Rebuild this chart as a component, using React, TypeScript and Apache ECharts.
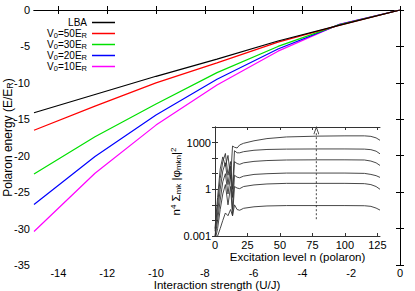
import React, { useEffect, useRef } from "react";
import * as echarts from "echarts";

// ---------- data ----------
const mainX = [-15, -12.5, -10, -7.5, -5, -2.5, 0];
const lba = [-14.1, -11.6, -9.1, -6.75, -4.25, -2.12, 0];
const v50 = [-16.5, -13.2, -10.0, -7.25, -4.4, -2.1, 0];
const v30 = [-22.5, -17.4, -12.9, -8.6, -5.0, -2.05, 0];
const v20 = [-26.7, -20.1, -14.4, -9.5, -5.35, -2.0, 0];
const v10 = [-30.4, -22.4, -15.8, -10.3, -5.65, -1.98, 0];

const seriesNames = ["LBA", "V0=50ER", "V0=30ER", "V0=20ER", "V0=10ER"];
const legendLabels: Record<string, string> = {
  LBA: "LBA",
  "V0=50ER": "V{sub|0}=50E{sub|R}",
  "V0=30ER": "V{sub|0}=30E{sub|R}",
  "V0=20ER": "V{sub|0}=20E{sub|R}",
  "V0=10ER": "V{sub|0}=10E{sub|R}",
};
const mainColors = ["#000000", "#ff0000", "#00e000", "#0000ff", "#ff00ff"];
const mainXTicks = [-14, -12, -10, -8, -6, -4, -2, 0];

const insetN = [0, 2, 4, 6, 8, 10, 12, 13.5, 15, 17, 19, 22, 30, 40, 55, 80, 100, 115, 120, 124, 127];
const inset1 = [0.003, 0.3, 20, 120, 30, 150, 5, 600, 500, 450, 700, 900, 1300, 1800, 2300, 2600, 2700, 2700, 2500, 2000, 1400];
const inset2 = [0.002, 0.1, 5, 60, 200, 8, 60, 1, 300, 220, 220, 260, 320, 360, 380, 390, 390, 380, 350, 280, 190];
const inset3 = [0.001, 0.03, 1, 15, 50, 2, 30, 0.3, 60, 45, 40, 50, 62, 70, 76, 78, 78, 76, 65, 50, 34];
const inset4 = [0.0008, 0.01, 0.2, 3, 10, 0.5, 8, 0.05, 8, 6, 5.5, 7, 9, 10, 11, 11, 11, 10.5, 9, 7.5, 5.8];
const inset5 = [0.0005, 0.003, 0.05, 0.5, 2, 0.1, 1.5, 0.02, 1.5, 1.2, 1.1, 1.5, 1.9, 2.2, 2.4, 2.4, 2.4, 2.3, 2.0, 1.5, 1.0];
const inset6 = [0.0003, 0.001, 0.003, 0.01, 0.03, 0.02, 0.05, 0.02, 0.1, 0.05, 0.045, 0.06, 0.075, 0.085, 0.09, 0.09, 0.09, 0.088, 0.08, 0.062, 0.046];
const insetXTicks = [0, 25, 50, 75, 100, 125];
const insetYLabelExps = [-3, 0, 3];
const dashedN = 78;
const dashedRange = [0.012, 5000];

const FONT = "'Liberation Sans', Arial, Helvetica, sans-serif";

export default function App() {
  const ref = useRef<HTMLDivElement>(null);
  useEffect(() => {
    if (!ref.current) return;
    const chart = echarts.init(ref.current, null, { renderer: "svg" });
    const mainData = [lba, v50, v30, v20, v10];
    const insetData = [inset1, inset2, inset3, inset4, inset5, inset6];
    const axisLineStyle = { color: "#000", width: 1 };
    const insetLineStyle = { color: "#333", width: 1 };
    const labelStyle = { fontFamily: FONT, fontSize: 11, color: "#000" };

    const option: any = {
      animation: false,
      backgroundColor: "#fff",
      grid: [
        { left: 34, top: 10, width: 366, height: 255, containLabel: false, outerBoundsMode: "none" },
        { left: 215, top: 127, width: 165, height: 109, show: true, backgroundColor: "#fff", borderWidth: 0, containLabel: false, outerBoundsMode: "none" },
      ],
      legend: {
        orient: "vertical",
        right: 300,
        top: 17,
        padding: 0,
        itemGap: 0,
        itemWidth: 23,
        itemHeight: 1.5,
        icon: "rect",
        align: "right",
        data: seriesNames,
        formatter: (name: string) => legendLabels[name],
        textStyle: {
          fontFamily: FONT,
          fontSize: 10,
          lineHeight: 11,
          color: "#000",
          rich: {
            sub: { fontFamily: FONT, fontSize: 7.5, lineHeight: 6, verticalAlign: "bottom", color: "#000" },
          },
        },
      },
      xAxis: [
        {
          type: "value", gridIndex: 0, min: -15, max: 0, position: "bottom",
          axisLine: { lineStyle: axisLineStyle },
          axisTick: { inside: true, length: 4, customValues: mainXTicks, lineStyle: axisLineStyle },
          axisLabel: { ...labelStyle, margin: 2, customValues: mainXTicks },
          splitLine: { show: false },
          name: "Interaction strength (U/J)",
          nameLocation: "middle",
          nameGap: 14,
          nameMoveOverlap: false,
          nameTextStyle: { fontFamily: FONT, fontSize: 11.5, color: "#000", verticalAlign: "top" },
        },
        {
          type: "value", gridIndex: 0, min: -15, max: 0, position: "top",
          axisLine: { lineStyle: axisLineStyle },
          axisTick: { inside: true, length: 4, customValues: mainXTicks, lineStyle: axisLineStyle },
          axisLabel: { show: false },
          splitLine: { show: false },
        },
        {
          type: "value", gridIndex: 1, min: 0, max: 127, position: "bottom",
          axisLine: { lineStyle: insetLineStyle },
          axisTick: { inside: true, length: 3, customValues: insetXTicks, lineStyle: insetLineStyle },
          axisLabel: { ...labelStyle, margin: 3, customValues: insetXTicks },
          splitLine: { show: false },
          name: "Excitation level n (polaron)",
          nameLocation: "middle",
          nameGap: 15,
          nameMoveOverlap: false,
          nameTextStyle: { fontFamily: FONT, fontSize: 11.5, color: "#000", verticalAlign: "top" },
        },
        {
          type: "value", gridIndex: 1, min: 0, max: 127, position: "top",
          axisLine: { lineStyle: insetLineStyle },
          axisTick: { inside: true, length: 3, customValues: insetXTicks, lineStyle: insetLineStyle },
          axisLabel: { show: false },
          splitLine: { show: false },
        },
      ],
      yAxis: [
        {
          type: "value", gridIndex: 0, min: -35, max: 0, interval: 5, position: "left",
          axisLine: { lineStyle: axisLineStyle },
          axisTick: { inside: true, length: 4, lineStyle: axisLineStyle },
          axisLabel: { ...labelStyle, margin: 4 },
          splitLine: { show: false },
          name: "Polaron energy (E/E{sub|R})",
          nameLocation: "middle",
          nameGap: 20,
          nameMoveOverlap: false,
          nameTextStyle: {
            fontFamily: FONT, fontSize: 12, color: "#000",
            rich: { sub: { fontFamily: FONT, fontSize: 9, lineHeight: 6, verticalAlign: "bottom", color: "#000" } },
          },
        },
        {
          type: "value", gridIndex: 0, min: -35, max: 0, interval: 5, position: "right",
          axisLine: { lineStyle: axisLineStyle },
          axisTick: { inside: true, length: 4, lineStyle: axisLineStyle },
          axisLabel: { show: false },
          splitLine: { show: false },
        },
        {
          type: "log", gridIndex: 1, min: 0.001, max: 10000, logBase: 10, position: "left",
          axisLine: { lineStyle: insetLineStyle },
          axisTick: { inside: true, length: 3, lineStyle: insetLineStyle },
          axisLabel: {
            ...labelStyle, margin: 4,
            formatter: (v: number) => {
              const e = Math.round(Math.log10(v));
              return insetYLabelExps.indexOf(e) >= 0 ? String(Number(v.toPrecision(3))) : "";
            },
          },
          splitLine: { show: false },
          name: "n{sup|4} Σ{sub|mk} |φ{sub|mkn}|{sup|2}",
          nameLocation: "middle",
          nameGap: 33,
          nameMoveOverlap: false,
          nameTextStyle: {
            fontFamily: FONT, fontSize: 11.5, color: "#000", lineHeight: 13,
            rich: {
              sub: { fontFamily: FONT, fontSize: 8, lineHeight: 6, verticalAlign: "bottom", color: "#000" },
              sup: { fontFamily: FONT, fontSize: 8, lineHeight: 6, verticalAlign: "top", color: "#000" },
            },
          },
        },
        {
          type: "log", gridIndex: 1, min: 0.001, max: 10000, logBase: 10, position: "right",
          axisLine: { lineStyle: insetLineStyle },
          axisTick: { inside: true, length: 3, lineStyle: insetLineStyle },
          axisLabel: { show: false },
          splitLine: { show: false },
        },
      ],
      series: [
        ...mainData.map((d, i) => ({
          name: seriesNames[i],
          type: "line",
          xAxisIndex: 0,
          yAxisIndex: 0,
          data: mainX.map((x, j) => [x, d[j]]),
          showSymbol: false,
          symbol: "none",
          color: mainColors[i],
          lineStyle: { color: mainColors[i], width: 1.2 },
          z: 3 + (4 - i),
        })),
        ...insetData.map((d, i) => ({
          name: "inset" + i,
          type: "line",
          xAxisIndex: 2,
          yAxisIndex: 2,
          data: insetN.map((n, j) => [n, d[j]]),
          showSymbol: false,
          symbol: "none",
          clip: true,
          lineStyle: { color: "#333", width: 0.9 },
          z: 5,
        })),
        {
          name: "marker",
          type: "line",
          xAxisIndex: 2,
          yAxisIndex: 2,
          data: [
            { value: [dashedN, dashedRange[0]], symbol: "none" },
            { value: [dashedN, dashedRange[1]], symbol: "path://M0 8 L4 0 L8 8", symbolSize: [5, 7], symbolOffset: [0, -1] },
          ],
          showSymbol: true,
          itemStyle: { color: "transparent", borderColor: "#333", borderWidth: 0.9 },
          lineStyle: { color: "#333", width: 0.9, type: [2, 2] },
          z: 6,
        },
      ],
    };
    chart.setOption(option);
    return () => chart.dispose();
  }, []);
  return (
    <div
      ref={ref}
      style={{ position: "fixed", left: 0, top: 0, width: 415, height: 291, background: "#fff" }}
    />
  );
}
